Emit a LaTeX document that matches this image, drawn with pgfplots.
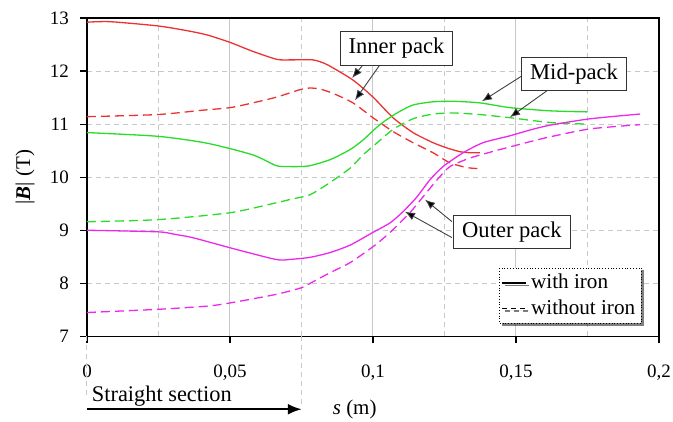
\documentclass[border=0pt]{standalone}
\usepackage{fontspec}
\setmainfont{Liberation Serif}
\usepackage{pgfplots}
\pgfplotsset{compat=1.18}
\usetikzlibrary{arrows.meta,shadows}

\definecolor{cred}{RGB}{235,50,50}
\definecolor{cgreen}{RGB}{40,220,40}
\definecolor{cmag}{RGB}{235,40,235}
\definecolor{gridc}{RGB}{200,200,200}

\begin{document}
\begin{tikzpicture}
\begin{axis}[
 scale only axis, width=286.5pt, height=159.5pt,
 xmin=0, xmax=0.2, ymin=7, ymax=13,
 xtick={0,0.05,0.1,0.15,0.2},
 xticklabels={0,{0,05},{0,1},{0,15},{0,2}},
 minor xtick={0.025,0.075,0.125,0.175},
 ytick={7,8,9,10,11,12,13},
 /pgf/number format/assume math mode=true,
 tick label style={font=\fontsize{9.5}{11}\selectfont},
 xticklabel style={yshift=-7pt},
 yticklabel style={xshift=-2pt},
 tick align=outside, xtick pos=bottom, ytick pos=left,
 major tick length=3.5pt, minor tick length=0pt,
 tick style={black, line width=0.6pt},
 xmajorgrids, xminorgrids, ymajorgrids,
 major x grid style={solid, gridc, line width=0.5pt},
 minor x grid style={gridc, dash pattern=on 2.5pt off 2pt, line width=0.5pt},
 major y grid style={gridc, dash pattern=on 2.5pt off 2pt, line width=0.5pt},
 axis line style={black, line width=0.7pt},
 clip=false,
 xlabel={\textit{s} (m)},
 ylabel={|\textbf{\textit{B}}| (T)},
 label style={font=\fontsize{10.5}{12}\selectfont},
 xlabel style={at={(axis description cs:0.468,-0.229)}, anchor=center},
 ylabel style={at={(axis description cs:-0.108,0.5)}, anchor=center},
 legend style={at={(0.721,0.216)}, anchor=north west, draw=black, densely dotted,
   fill=white, drop shadow={shadow xshift=1.2pt, shadow yshift=-1.2pt, fill=black},
   font=\fontsize{10.6}{12}\selectfont, inner xsep=1pt, inner ysep=1pt,
   row sep=0pt},
 legend image code/.code={\draw[#1] (0pt,0pt) -- (12pt,0pt);},
 legend cell align=left,
]
\addlegendimage{black, solid, line width=0.7pt}
\addlegendentry{with iron}
\addlegendimage{black, line width=0.7pt, dash pattern=on 2.5pt off 2pt}
\addlegendentry{without iron}

% Inner pack
\addplot[forget plot, cred, line width=0.65pt, smooth, tension=0.4] coordinates {
(0,12.92)(0.008,12.93)(0.0248,12.85)(0.035,12.76)(0.042,12.68)(0.05,12.54)(0.058,12.37)(0.0664,12.22)(0.071,12.21)(0.079,12.21)(0.0832,12.14)(0.086,12.06)(0.093,11.83)(0.1,11.51)(0.107,11.12)(0.114,10.84)(0.121,10.65)(0.1259,10.55)(0.1304,10.48)(0.134,10.46)(0.1374,10.46)};
\addplot[forget plot, cred, line width=0.65pt, dash pattern=on 4.5pt off 2.5pt, smooth, tension=0.4] coordinates {
(0,11.14)(0.0248,11.18)(0.04,11.26)(0.05,11.31)(0.058,11.4)(0.0664,11.51)(0.0745,11.65)(0.078,11.68)(0.0815,11.66)(0.086,11.58)(0.093,11.4)(0.1,11.12)(0.107,10.86)(0.114,10.65)(0.121,10.46)(0.1269,10.27)(0.1329,10.18)(0.1374,10.16)};
% Mid-pack
\addplot[forget plot, cgreen, line width=0.65pt, smooth, tension=0.4] coordinates {
(0,10.84)(0.0248,10.77)(0.042,10.64)(0.058,10.42)(0.066,10.22)(0.07,10.2)(0.0773,10.21)(0.085,10.33)(0.092,10.52)(0.0965,10.7)(0.1024,10.99)(0.1084,11.21)(0.114,11.36)(0.121,11.42)(0.128,11.43)(0.1374,11.40)(0.1479,11.31)(0.1619,11.25)(0.175,11.23)};
\addplot[forget plot, cgreen, line width=0.65pt, dash pattern=on 4.5pt off 2.5pt, smooth, tension=0.4] coordinates {
(0,9.16)(0.0248,9.2)(0.05,9.33)(0.0664,9.52)(0.071,9.58)(0.078,9.67)(0.085,9.9)(0.092,10.17)(0.0965,10.42)(0.1,10.58)(0.107,10.9)(0.114,11.1)(0.121,11.19)(0.128,11.21)(0.1374,11.18)(0.1479,11.12)(0.1619,11.03)(0.175,11.0)};
% Outer pack
\addplot[forget plot, cmag, line width=0.65pt, smooth, tension=0.4] coordinates {
(0,9.0)(0.0248,8.97)(0.031,8.92)(0.037,8.86)(0.05,8.67)(0.066,8.45)(0.071,8.45)(0.078,8.49)(0.085,8.58)(0.092,8.72)(0.1,8.96)(0.106,9.14)(0.1105,9.35)(0.1154,9.63)(0.1199,9.95)(0.1245,10.2)(0.1315,10.46)(0.1385,10.65)(0.1479,10.78)(0.155,10.89)(0.1619,10.98)(0.1759,11.1)(0.1934,11.19)};
\addplot[forget plot, cmag, line width=0.65pt, dash pattern=on 4.5pt off 2.5pt, smooth, tension=0.4] coordinates {
(0,7.45)(0.0248,7.51)(0.042,7.57)(0.05,7.63)(0.066,7.79)(0.0752,7.92)(0.078,8.0)(0.085,8.2)(0.092,8.39)(0.1,8.69)(0.106,8.96)(0.1129,9.33)(0.1175,9.63)(0.1224,9.95)(0.1269,10.2)(0.1339,10.36)(0.1409,10.47)(0.1479,10.57)(0.155,10.67)(0.1619,10.76)(0.1759,10.91)(0.1934,10.99)};

% annotation arrows
\begin{scope}[black!75, line width=0.45pt, -{Latex[length=5pt,width=4pt,fill=black]}]
\draw (axis cs:0.0965,12.116) -- (axis cs:0.0927,11.87);
\draw (axis cs:0.1024,12.116) -- (axis cs:0.0937,11.45);
\draw (axis cs:0.1521,11.909) -- (axis cs:0.1381,11.43);
\draw (axis cs:0.1608,11.627) -- (axis cs:0.1479,11.13);
\draw (axis cs:0.1276,9.163) -- (axis cs:0.1182,9.577);
\draw (axis cs:0.1276,8.862) -- (axis cs:0.1112,9.35);
\end{scope}
\begin{scope}[every node/.style={draw=black!80, fill=white, line width=0.5pt,
   font=\fontsize{11.3}{13}\selectfont, inner xsep=4.2pt, inner ysep=3.2pt}]
\node at (axis cs:0.1082,12.426) {Inner pack};
\node at (axis cs:0.1703,11.947) {Mid-pack};
\node at (axis cs:0.1486,8.966) {Outer pack};
\end{scope}

% straight section
\draw[gridc, dash pattern=on 2.5pt off 2pt, line width=0.5pt] (axis cs:0,7) -- (axis cs:0,5.816);
\draw[gridc, dash pattern=on 2.5pt off 2pt, line width=0.5pt] (axis cs:0.075,7) -- (axis cs:0.075,5.72);
\node[anchor=base west, inner sep=0pt, font=\fontsize{11.2}{13}\selectfont] at (axis cs:0.0016,5.778) {Straight section};
\draw[black, line width=1.1pt, -{Latex[length=7pt,width=5.5pt]}] (axis cs:0,5.627) -- (axis cs:0.0751,5.627);

\coordinate (bbll) at (axis cs:-0.03042,5.4017);
\coordinate (bbur) at (axis cs:0.2049,13.3385);
\end{axis}
\pgfresetboundingbox
\path[use as bounding box] (bbll) rectangle (bbur);
\end{tikzpicture}
\end{document}
